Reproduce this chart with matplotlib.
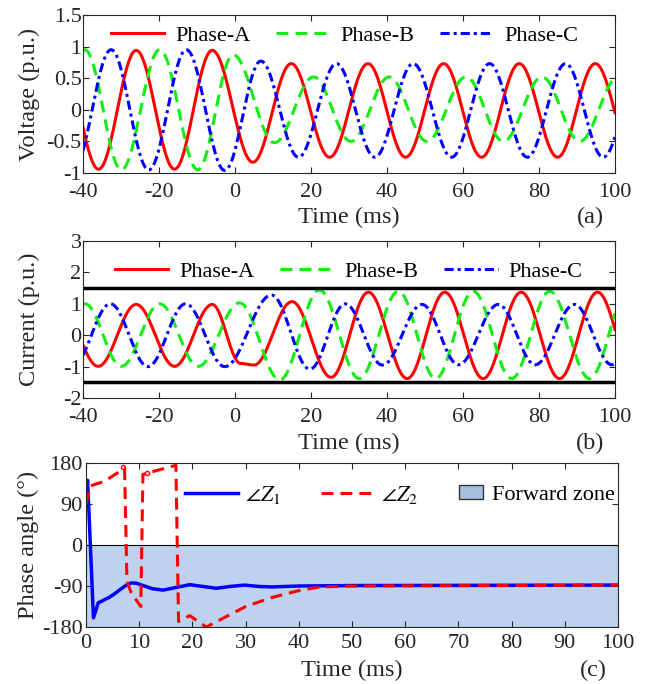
import numpy as np
import matplotlib.pyplot as plt
from matplotlib.lines import Line2D
from matplotlib.patches import Patch

plt.rcParams['font.family'] = ['Liberation Serif', 'DejaVu Serif']
plt.rcParams['mathtext.fontset'] = 'stix'
plt.rcParams['axes.unicode_minus'] = False

# ---- data ----
# waveforms: times (ms) of successive peaks/troughs and their values (p.u.)
phase_names = ['Phase-A', 'Phase-B', 'Phase-C']

volt_a_t = [-46.0, -35.9, -26.0, -15.9, -6.0, 4.7, 14.8, 24.9, 35.0, 44.9, 54.9, 64.9, 74.8, 84.9, 94.8, 104.9]
volt_a_v = [0.94, -0.94, 0.94, -0.94, 0.94, -0.83, 0.73, -0.75, 0.73, -0.75, 0.73, -0.75, 0.73, -0.75, 0.73, -0.75]
volt_b_t = [-49.5, -39.5, -29.9, -19.8, -9.8, -0.5, 10.4, 20.7, 30.5, 40.6, 50.5, 60.8, 70.6, 80.8, 90.7, 100.9]
volt_b_v = [-0.95, 0.95, -0.95, 0.95, -0.95, 0.87, -0.52, 0.52, -0.50, 0.52, -0.50, 0.52, -0.50, 0.52, -0.50, 0.52]
volt_c_t = [-42.6, -32.6, -22.7, -12.8, -2.7, 6.8, 16.7, 26.7, 36.8, 46.9, 57.0, 67.0, 76.9, 87.0, 96.9, 106.9]
volt_c_v = [-0.95, 0.95, -0.95, 0.95, -0.96, 0.77, -0.75, 0.73, -0.75, 0.73, -0.75, 0.73, -0.75, 0.73, -0.75, 0.73]

curr_a_t = [-46.0, -36.0, -26.0, -15.9, -6.0, 1.5, 5.0, 15.0, 25.3, 35.1, 45.3, 55.2, 65.3, 75.3, 85.4, 95.4, 105.5]
curr_a_v = [0.98, -0.99, 0.98, -0.99, 0.98, -0.90, -0.95, 1.07, -1.34, 1.37, -1.38, 1.37, -1.38, 1.37, -1.38, 1.37, -1.38]
curr_b_t = [-49.5, -39.5, -29.9, -19.8, -9.7, 1.2, 11.8, 22.2, 32.7, 43.0, 52.8, 62.7, 72.8, 82.8, 93.3, 103.4]
curr_b_v = [-1.0, 1.0, -0.99, 1.0, -0.99, 1.03, -1.42, 1.44, -1.38, 1.40, -1.38, 1.40, -1.38, 1.40, -1.38, 1.40]
curr_c_t = [-42.8, -32.8, -22.9, -13.0, -2.7, 9.6, 19.7, 29.0, 38.8, 49.2, 58.8, 69.3, 79.0, 89.3, 99.2, 109.0]
curr_c_v = [-1.0, 1.0, -1.0, 1.0, -1.0, 1.28, -1.08, 1.0, -0.95, 0.98, -0.94, 0.98, -0.94, 0.98, -0.94, 0.98]
curr_limit = [1.5, -1.5]

z1_t = [0, 0.3, 1.4, 2.3, 3.5, 4.5, 5.5, 6.5, 7.6, 8.6, 9.5, 10.5, 12.5, 14.5, 17.0, 19.5, 22.0, 24.5, 27.0,
        29.8, 32.5, 35.0, 40.0, 50.0, 100.0]
z1_v = [112, 142, -160, -127, -120, -114, -106, -97, -88, -83, -84, -88, -96, -99, -93, -87, -91, -95, -91,
        -88, -91, -92, -90, -89, -88]
z2_t = [0, 0.9, 3.5, 6.8, 7.25, 7.7, 8.5, 10.3, 10.7, 11.6, 16.9, 17.4, 19.5, 22.6, 30.0, 35.0, 40.0, 44.0, 50.0, 100.0]
z2_v = [90, 130, 140, 165, 168, -80, -105, -135, 155, 158, 175, -168, -155, -180, -135, -115, -100, -92, -90, -88]
z2_ring_t = [7.0, 11.5]
z2_ring_v = [171, 158]
forward_zone = [-180, 0]

volt_ticks = [-1, -0.5, 0, 0.5, 1, 1.5]
curr_ticks = [-2, -1, 0, 1, 2, 3]
time_ticks = [-40, -20, 0, 20, 40, 60, 80, 100]
angle_ticks = [-180, -90, 0, 90, 180]
angle_time_ticks = [0, 10, 20, 30, 40, 50, 60, 70, 80, 90, 100]

RED, GREEN, BLUE = '#ff0000', '#11ee11', '#0000ff'
DARK = '#262626'
styles = [dict(color=RED, lw=2.2, ls='-'),
          dict(color=GREEN, lw=2.2, ls=(0, (3.9, 2.3))),
          dict(color=BLUE, lw=2.2, ls=(0, (3.0, 1.3, 1.0, 1.3)))]


def arcs(tk, vk, t):
    # join the read extrema with half-cosine arcs
    tk = np.asarray(tk, float)
    vk = np.asarray(vk, float)
    i = np.clip(np.searchsorted(tk, t) - 1, 0, len(tk) - 2)
    frac = (t - tk[i]) / (tk[i + 1] - tk[i])
    return vk[i] + (vk[i + 1] - vk[i]) * (1 - np.cos(np.pi * frac)) / 2


def style(ax, ypad, xpad):
    ax.tick_params(direction='in', top=True, right=True, length=4, width=0.8,
                   labelsize=16, colors=DARK)
    ax.tick_params(axis='y', pad=ypad)
    ax.tick_params(axis='x', pad=xpad)
    for s in ax.spines.values():
        s.set_color(DARK)
        s.set_linewidth(0.8)


def fmt(vals):
    return [f'{v:g}' for v in vals]


fig = plt.figure(figsize=(6.51, 6.84), dpi=100)
t = np.linspace(-40, 100, 4001)

# ---- (a) voltage ----
ax1 = fig.add_axes([0.1275, 0.7471, 0.8172, 0.2310])
for (tk, vk), name, st in zip([(volt_a_t, volt_a_v), (volt_b_t, volt_b_v), (volt_c_t, volt_c_v)],
                              phase_names, styles):
    ax1.plot(t, arcs(tk, vk, t), label=name, **st)
ax1.set_xlim(-40, 100)
ax1.set_ylim(-1, 1.5)
ax1.set_xticks(time_ticks, fmt(time_ticks))
ax1.set_yticks(volt_ticks, fmt(volt_ticks))
style(ax1, 1, 7.5)
ax1.set_ylabel('Voltage (p.u.)', fontsize=17.6, color=DARK)
ax1.yaxis.set_label_coords(-0.081, 0.5)
ax1.set_xlabel('Time (ms)', fontsize=17.6, color=DARK, va='top')
ax1.xaxis.set_label_coords(0.5, -0.215)
ax1.text(0.953, -0.215, '(a)', transform=ax1.transAxes, ha='center', va='top',
         fontsize=17.6, color=DARK)
ax1.legend(loc='center', bbox_to_anchor=(0.492, 0.868), ncol=3, frameon=False,
           fontsize=16, handlelength=2.4, handletextpad=0.5, columnspacing=1.15,
           borderpad=0.1)

# ---- (b) current ----
ax2 = fig.add_axes([0.1275, 0.4181, 0.8172, 0.2295])
for (tk, vk), name, st in zip([(curr_a_t, curr_a_v), (curr_b_t, curr_b_v), (curr_c_t, curr_c_v)],
                              phase_names, styles):
    ax2.plot(t, arcs(tk, vk, t), label=name, **st)
for lim in curr_limit:
    ax2.axhline(lim, color='k', lw=2.5)
ax2.set_xlim(-40, 100)
ax2.set_ylim(-2, 3)
ax2.set_xticks(time_ticks, fmt(time_ticks))
ax2.set_yticks(curr_ticks, fmt(curr_ticks))
style(ax2, 1, 7.5)
ax2.set_ylabel('Current (p.u.)', fontsize=17.6, color=DARK)
ax2.yaxis.set_label_coords(-0.081, 0.5)
ax2.set_xlabel('Time (ms)', fontsize=17.6, color=DARK, va='top')
ax2.xaxis.set_label_coords(0.5, -0.22)
ax2.text(0.953, -0.22, '(b)', transform=ax2.transAxes, ha='center', va='top',
         fontsize=17.6, color=DARK)
ax2.legend(loc='center', bbox_to_anchor=(0.5, 0.803), ncol=3, frameon=False,
           fontsize=16, handlelength=2.4, handletextpad=0.5, columnspacing=1.15,
           borderpad=0.1)

# ---- (c) phase angle ----
ax3 = fig.add_axes([0.1321, 0.0833, 0.8172, 0.2398])
zone_color = '#bed1ee'
ax3.fill_between([0, 100], forward_zone[0], forward_zone[1], color=zone_color, lw=0)
ax3.axhline(forward_zone[1], color='k', lw=0.8)
ax3.plot(z1_t, z1_v, color=BLUE, lw=2.5)
ax3.plot(z2_t, z2_v, color=RED, lw=2.2, ls=(0, (3.9, 2.3)))
ax3.plot(z2_ring_t, z2_ring_v, 'o', ms=3, mfc='none', mec=RED, mew=1)
ax3.set_xlim(0, 100)
ax3.set_ylim(-180, 180)
ax3.set_xticks(angle_time_ticks, fmt(angle_time_ticks))
ax3.set_yticks(angle_ticks, fmt(angle_ticks))
style(ax3, 2.5, 5)
ax3.set_ylabel('Phase angle (°)', fontsize=17.6, color=DARK)
ax3.yaxis.set_label_coords(-0.088, 0.5)
ax3.set_xlabel('Time (ms)', fontsize=17.6, color=DARK, va='top')
ax3.xaxis.set_label_coords(0.5, -0.2)
ax3.text(0.953, -0.2, '(c)', transform=ax3.transAxes, ha='center', va='top',
         fontsize=17.6, color=DARK)

line_handles = [Line2D([], [], color=BLUE, lw=2.5),
                Line2D([], [], color=RED, lw=2.2, ls=(0, (3.9, 2.3)))]
leg1 = ax3.legend(line_handles, [r'$\angle Z_1$', r'$\angle Z_2$'], loc='center',
                  bbox_to_anchor=(0.405, 0.805), ncol=2, frameon=False, fontsize=16,
                  handlelength=2.4, handletextpad=0.3, columnspacing=1.8, borderpad=0.1)
ax3.add_artist(leg1)
ax3.legend([Patch(facecolor='#a6bfdd', edgecolor='#333333', lw=1)], ['Forward zone'],
           loc='center', bbox_to_anchor=(0.848, 0.805), frameon=False, fontsize=16,
           handlelength=1.1, handleheight=0.6, handletextpad=0.4, borderpad=0.1)

fig.savefig('out.png', dpi=100)
